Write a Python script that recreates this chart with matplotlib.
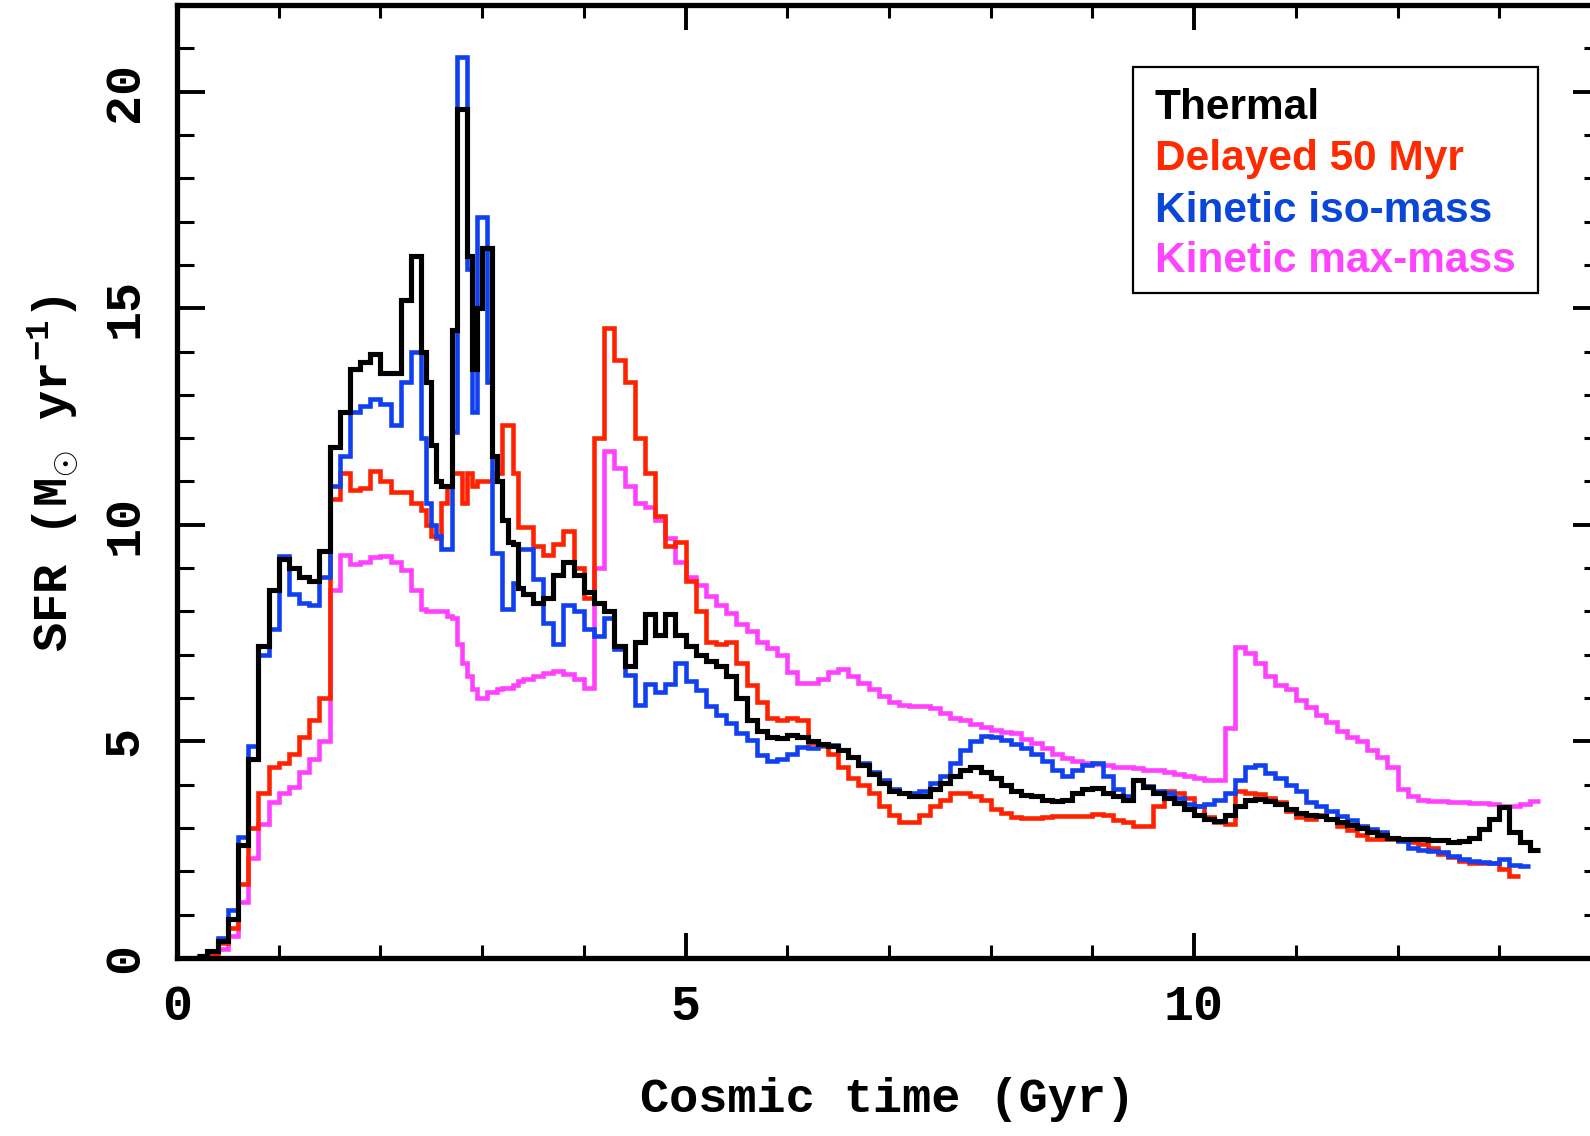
import numpy as np
import matplotlib
matplotlib.use('Agg')
import matplotlib.pyplot as plt
from matplotlib.patches import Rectangle

plt.rcParams['mathtext.fontset'] = 'custom'
plt.rcParams['mathtext.rm'] = 'Liberation Mono:bold'
plt.rcParams['mathtext.it'] = 'Liberation Mono:bold'
plt.rcParams['mathtext.bf'] = 'Liberation Mono:bold'

# time bins (Gyr): 0.1 Gyr bins, finer 0.05 Gyr bins across the 2.4-3.4 Gyr burst
edges = np.concatenate([np.linspace(0.2, 2.3, 22),
                        np.linspace(2.4, 3.35, 20),
                        np.linspace(3.4, 13.4, 101)])

labels = ['Thermal', 'Delayed 50 Myr', 'Kinetic iso-mass', 'Kinetic max-mass']
line_colors = ['black', '#ff2200', '#1040f0', '#ff40ff']
text_colors = ['black', '#ff2a00', '#0a47d6', '#ff44ff']

# SFR (Msun/yr) per bin
sfr_thermal = [
    0.05, 0.15, 0.4, 0.9, 2.6, 4.6, 7.2, 8.5, 9.2, 9.0, 8.8, 8.7, 9.4, 11.8, 12.6, 13.6,
    13.75, 13.95, 13.5, 13.5, 15.2, 16.2,
    14.0, 13.3, 11.85, 11.0, 10.9, 10.9, 14.5, 19.6, 19.6, 16.2, 13.6, 15.0, 16.4, 16.4,
    11.6, 11.0, 10.1, 9.6, 9.56, 8.55,
    8.4, 8.2, 8.3, 8.85, 9.15, 8.85, 8.45, 8.2, 8.0, 7.2,
    6.75, 7.3, 7.95, 7.45, 7.95, 7.45, 7.2, 7.0, 6.85, 6.75,
    6.5, 6.0, 5.5, 5.25, 5.1, 5.08, 5.15, 5.1, 5.0, 4.95,
    4.9, 4.8, 4.65, 4.45, 4.25, 4.05, 3.85, 3.8, 3.75, 3.73,
    3.9, 4.05, 4.2, 4.35, 4.42, 4.3, 4.15, 4.0, 3.85, 3.77,
    3.75, 3.65, 3.62, 3.65, 3.8, 3.9, 3.92, 3.8, 3.73, 3.65,
    4.1, 3.95, 3.8, 3.7, 3.58, 3.45, 3.3, 3.2, 3.17, 3.3,
    3.5, 3.65, 3.67, 3.62, 3.55, 3.45, 3.35, 3.3, 3.28, 3.22,
    3.15, 3.07, 3.0, 2.92, 2.85, 2.78, 2.75, 2.75, 2.74, 2.72,
    2.72, 2.67, 2.7, 2.78, 2.98, 3.2, 3.48, 2.9, 2.67, 2.5,
]

sfr_delayed = [
    0.02, 0.1, 0.35, 0.7, 1.7, 3.0, 3.8, 4.4, 4.5, 4.7, 5.1, 5.5, 6.0, 10.6, 11.2, 10.8,
    10.85, 11.25, 11.0, 10.75, 10.75, 10.5,
    10.35, 10.0, 9.75, 9.7, 10.5, 10.9, 11.2, 11.2, 10.5, 11.2, 10.9, 11.0, 11.0, 11.0,
    11.2, 11.2, 12.3, 12.3, 11.2, 9.96,
    9.96, 9.5, 9.3, 9.55, 9.86, 9.0, 8.3, 12.0, 14.55, 13.8,
    13.3, 12.0, 11.2, 10.2, 9.5, 9.6, 8.7, 8.0, 7.3, 7.25,
    7.3, 6.8, 6.3, 5.9, 5.55, 5.5, 5.54, 5.5, 4.96, 4.9,
    4.7, 4.4, 4.15, 4.0, 3.81, 3.5, 3.3, 3.15, 3.15, 3.3,
    3.5, 3.65, 3.81, 3.81, 3.75, 3.65, 3.45, 3.35, 3.25, 3.23,
    3.23, 3.25, 3.27, 3.27, 3.27, 3.27, 3.32, 3.3, 3.19, 3.15,
    3.05, 3.05, 3.5, 3.85, 3.82, 3.7, 3.5, 3.25, 3.15, 3.1,
    3.85, 3.82, 3.78, 3.7, 3.6, 3.4, 3.25, 3.2, 3.3, 3.2,
    3.05, 2.95, 2.85, 2.75, 2.75, 2.75, 2.72, 2.68, 2.62, 2.55,
    2.4, 2.32, 2.25, 2.2, 2.2, 2.2, 2.05, 1.9,
]

sfr_iso = [
    0.05, 0.15, 0.45, 1.1, 2.8, 4.9, 7.0, 7.6, 9.27, 8.4, 8.2, 8.15, 8.8, 10.9, 11.6, 12.6,
    12.75, 12.9, 12.8, 12.3, 13.3, 14.0,
    12.0, 10.5, 10.0, 9.75, 9.45, 9.45, 12.15, 20.8, 20.8, 15.9, 12.6, 17.1, 17.1, 13.3,
    9.35, 9.35, 8.05, 8.05, 8.65, 9.45,
    9.45, 8.75, 7.74, 7.24, 8.15, 8.0, 7.6, 7.44, 7.84, 7.14,
    6.53, 5.83, 6.33, 6.13, 6.33, 6.8, 6.4, 6.19, 5.81, 5.62,
    5.42, 5.2, 5.04, 4.69, 4.54, 4.6, 4.7, 4.88, 4.85, 4.92,
    4.92, 4.8, 4.65, 4.5, 4.3, 4.1, 3.9, 3.81, 3.8, 3.85,
    4.05, 4.2, 4.5, 4.8, 5.0, 5.12, 5.1, 5.04, 4.95, 4.85,
    4.7, 4.55, 4.35, 4.2, 4.35, 4.45, 4.5, 4.2, 3.9, 3.75,
    4.12, 3.96, 3.86, 3.8, 3.7, 3.55, 3.5, 3.55, 3.65, 3.8,
    4.1, 4.4, 4.45, 4.28, 4.15, 4.0, 3.85, 3.6, 3.5, 3.4,
    3.28, 3.18, 3.05, 2.98, 2.9, 2.78, 2.7, 2.55, 2.5, 2.46,
    2.44, 2.35, 2.28, 2.25, 2.22, 2.2, 2.28, 2.15, 2.13,
]

sfr_max = [
    0.02, 0.08, 0.2, 0.5, 1.3, 2.3, 3.1, 3.6, 3.8, 3.95, 4.3, 4.6, 5.0, 8.5, 9.3, 9.1,
    9.15, 9.25, 9.27, 9.15, 8.95, 8.5,
    8.05, 8.0, 8.0, 8.0, 8.0, 7.9, 7.84, 7.25, 6.8, 6.5, 6.2, 6.0, 6.0, 6.13,
    6.13, 6.2, 6.23, 6.23, 6.3, 6.4,
    6.43, 6.5, 6.58, 6.63, 6.55, 6.43, 6.23, 9.0, 11.7, 11.3,
    10.9, 10.5, 10.4, 10.1, 9.7, 9.15, 8.8, 8.6, 8.35, 8.15,
    7.96, 7.7, 7.55, 7.3, 7.15, 7.0, 6.6, 6.35, 6.35, 6.45,
    6.6, 6.68, 6.5, 6.35, 6.2, 6.04, 5.9, 5.85, 5.81, 5.81,
    5.78, 5.65, 5.55, 5.5, 5.4, 5.33, 5.27, 5.22, 5.2, 5.05,
    4.96, 4.85, 4.72, 4.62, 4.55, 4.5, 4.47, 4.45, 4.42, 4.4,
    4.38, 4.35, 4.33, 4.3, 4.25, 4.2, 4.15, 4.1, 4.1, 5.3,
    7.17, 7.05, 6.8, 6.5, 6.3, 6.2, 5.95, 5.8, 5.6, 5.45,
    5.25, 5.1, 5.0, 4.8, 4.65, 4.4, 3.9, 3.75, 3.65, 3.63,
    3.62, 3.6, 3.6, 3.58, 3.57, 3.55, 3.52, 3.5, 3.55, 3.62,
]

series = [sfr_thermal, sfr_delayed, sfr_iso, sfr_max]

fig = plt.figure(figsize=(15.9, 11.36), dpi=100)
ax = fig.add_axes([0.1113, 0.1567, 0.8956, 0.8389])

# draw the pink one first, black on top
order = [3, 1, 2, 0]
for i in order:
    vals = np.array(series[i])
    ax.stairs(vals, edges[:len(vals) + 1], baseline=None,
              color=line_colors[i], lw=3.7 if i == 0 else 3.3)

ax.set_xlim(0, 14)
ax.set_ylim(0, 22)
ax.set_xticks([0, 5, 10])
ax.set_xticks(np.arange(0, 15, 1), minor=True)
ax.set_yticks([0, 5, 10, 15, 20])
ax.set_yticks(np.arange(0, 23, 1), minor=True)

for s in ax.spines.values():
    s.set_linewidth(3.8)
ax.tick_params(which='both', direction='in', top=True, right=True)
ax.tick_params(axis='x', which='major', length=18, width=2.8, pad=19)
ax.tick_params(axis='x', which='minor', length=9.5, width=2.2)
ax.tick_params(axis='y', which='major', length=20, width=2.8, pad=21)
ax.tick_params(axis='y', which='minor', length=12, width=2.2)

tick_font = dict(family='Liberation Mono', weight='bold', size=36)
ax.set_xticklabels(['0', '5', '10'], fontdict=tick_font)
ax.set_yticklabels(['0', '5', '10', '15', '20'], fontdict=tick_font)
for lab in ax.get_yticklabels():
    lab.set_rotation(90)
    lab.set_va('center')

fig.text(0.558, 0.0317, 'Cosmic time (Gyr)', ha='center', va='center',
         family='Liberation Mono', weight='bold', size=35)
fig.text(0.033, 0.583, r'SFR (M$_{\odot}$ yr$^{-1}$)', rotation=90,
         ha='center', va='center', family='Liberation Mono', weight='bold', size=35)

# legend box with coloured names
fig.add_artist(Rectangle((0.7126, 0.7421), 0.2547, 0.1989, transform=fig.transFigure,
                         fill=False, edgecolor='black', lw=1.6))
baselines = [0.8952, 0.8504, 0.8046, 0.7606]
for lab, c, yb in zip(labels, text_colors, baselines):
    fig.text(0.7264, yb, lab, color=c, ha='left', va='baseline',
             family='Liberation Sans', weight='bold', size=30.5)

fig.savefig('out.png', dpi=100)
